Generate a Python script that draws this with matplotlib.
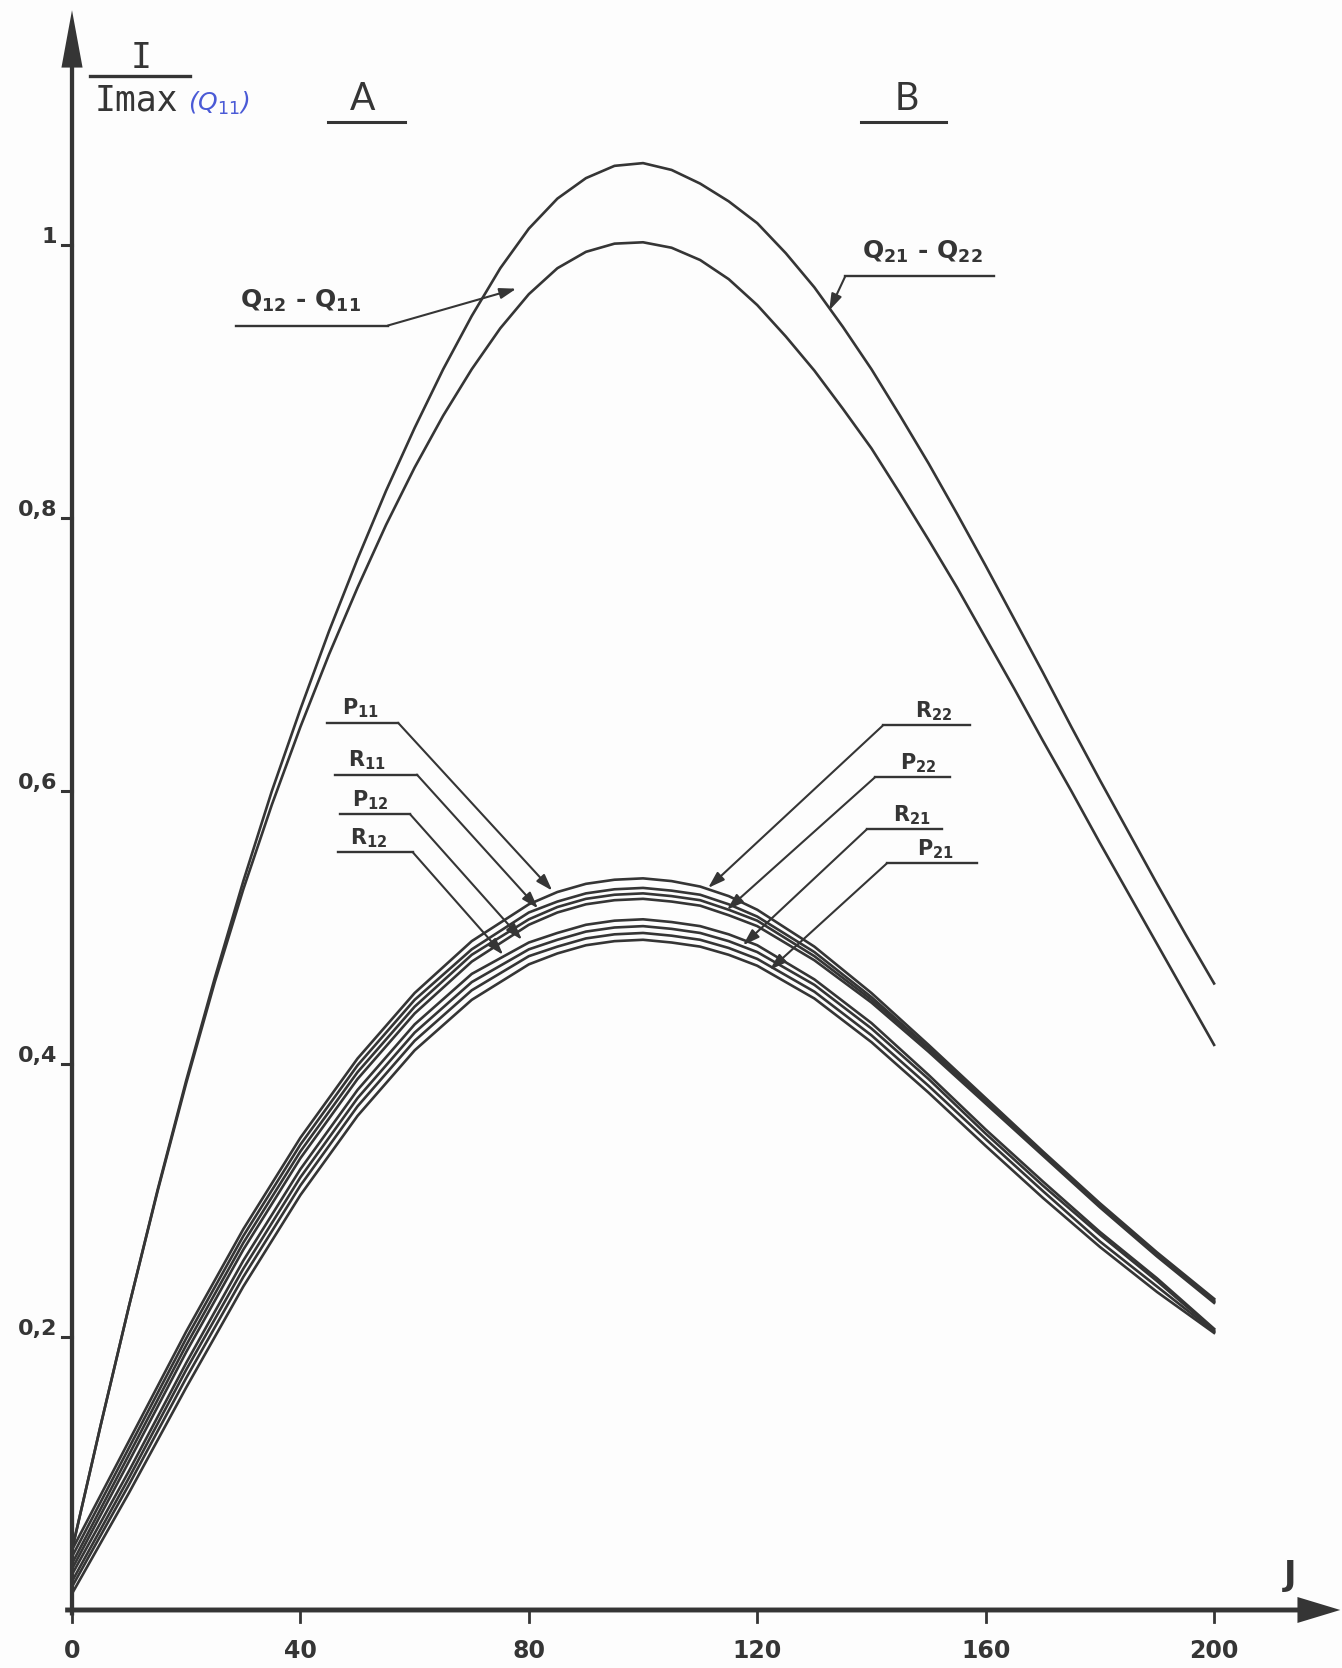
#importing relevant libraries
import matplotlib.pyplot as plt

#fonts: bold sans for the lettering, subscripts in the same family
plt.rcParams['font.family'] = ['DejaVu Sans']
plt.rcParams['mathtext.fontset'] = 'dejavusans'

#---------------- data ----------------
#J values for the two Q curves (every 5)
j_q = list(range(0, 205, 5))
q21_q22 = [0.044, 0.135, 0.223, 0.308, 0.388, 0.463, 0.534, 0.600, 0.660, 0.717,
           0.770, 0.820, 0.866, 0.909, 0.948, 0.983, 1.012, 1.034, 1.049, 1.058,
           1.060, 1.055, 1.045, 1.032, 1.016, 0.994, 0.969, 0.940, 0.909, 0.875,
           0.840, 0.803, 0.765, 0.726, 0.687, 0.647, 0.608, 0.570, 0.532, 0.495,
           0.459]
q12_q11 = [0.044, 0.135, 0.223, 0.307, 0.386, 0.460, 0.528, 0.590, 0.647, 0.700,
           0.749, 0.795, 0.837, 0.875, 0.909, 0.939, 0.964, 0.983, 0.995, 1.001,
           1.002, 0.998, 0.989, 0.975, 0.956, 0.933, 0.908, 0.880, 0.851, 0.818,
           0.784, 0.749, 0.712, 0.675, 0.637, 0.600, 0.562, 0.525, 0.488, 0.451,
           0.414]

#J values for the P / R bundle (denser around the maximum)
j_pr = [0, 10, 20, 30, 40, 50, 60, 70, 80, 85, 90, 95, 100, 105, 110, 115, 120,
        130, 140, 150, 160, 170, 180, 190, 200]
r22 = [0.044, 0.124, 0.204, 0.279, 0.346, 0.404, 0.452, 0.490, 0.517, 0.526, 0.532,
       0.535, 0.536, 0.534, 0.530, 0.523, 0.513, 0.486, 0.452, 0.414, 0.375, 0.336,
       0.298, 0.262, 0.228]
p11 = [0.039, 0.119, 0.199, 0.274, 0.341, 0.399, 0.447, 0.484, 0.511, 0.519, 0.525,
       0.528, 0.529, 0.527, 0.524, 0.517, 0.508, 0.482, 0.449, 0.412, 0.373, 0.335,
       0.297, 0.261, 0.227]
p22 = [0.034, 0.114, 0.194, 0.269, 0.336, 0.394, 0.442, 0.480, 0.506, 0.515, 0.521,
       0.524, 0.525, 0.523, 0.520, 0.513, 0.505, 0.479, 0.447, 0.411, 0.372, 0.334,
       0.296, 0.260, 0.226]
r11 = [0.030, 0.109, 0.189, 0.264, 0.331, 0.389, 0.437, 0.475, 0.502, 0.511, 0.517,
       0.520, 0.521, 0.519, 0.516, 0.509, 0.501, 0.476, 0.445, 0.409, 0.371, 0.333,
       0.295, 0.259, 0.225]
r21 = [0.026, 0.102, 0.181, 0.256, 0.323, 0.381, 0.429, 0.466, 0.489, 0.496, 0.502,
       0.505, 0.506, 0.504, 0.501, 0.495, 0.487, 0.462, 0.430, 0.392, 0.352, 0.314,
       0.277, 0.243, 0.206]
p12 = [0.021, 0.097, 0.176, 0.250, 0.317, 0.375, 0.423, 0.460, 0.484, 0.491, 0.497,
       0.500, 0.501, 0.499, 0.496, 0.490, 0.482, 0.458, 0.426, 0.389, 0.349, 0.311,
       0.275, 0.241, 0.205]
p21 = [0.017, 0.092, 0.170, 0.244, 0.311, 0.369, 0.417, 0.454, 0.479, 0.486, 0.492,
       0.495, 0.496, 0.494, 0.491, 0.485, 0.477, 0.453, 0.421, 0.384, 0.345, 0.307,
       0.270, 0.237, 0.204]
r12 = [0.012, 0.086, 0.163, 0.237, 0.304, 0.362, 0.410, 0.447, 0.473, 0.481, 0.487,
       0.490, 0.491, 0.489, 0.486, 0.480, 0.472, 0.448, 0.416, 0.379, 0.340, 0.302,
       0.266, 0.233, 0.203]

#axis ticks
x_ticks = [0, 40, 80, 120, 160, 200]
y_ticks = [0.2, 0.4, 0.6, 0.8, 1.0]
y_tick_labels = ['0,2', '0,4', '0,6', '0,8', '1']

#curve labels: text, text left J, underline v, underline J from/to, arrow tip (J, v), side
curve_labels = [
    (r'P$_\mathbf{11}$', 47.3, 0.650, 44.7, 57.1, 84.1, 0.527, 'left'),
    (r'R$_\mathbf{11}$', 48.3, 0.612, 46.1, 60.4, 81.6, 0.514, 'left'),
    (r'P$_\mathbf{12}$', 49.0, 0.583, 46.9, 59.2, 78.8, 0.491, 'left'),
    (r'R$_\mathbf{12}$', 48.7, 0.555, 46.6, 59.7, 75.5, 0.480, 'left'),
    (r'R$_\mathbf{22}$', 147.6, 0.648, 142.0, 157.3, 111.4, 0.529, 'right'),
    (r'P$_\mathbf{22}$', 145.0, 0.610, 140.6, 153.8, 114.7, 0.513, 'right'),
    (r'R$_\mathbf{21}$', 143.8, 0.572, 139.2, 152.4, 117.5, 0.487, 'right'),
    (r'P$_\mathbf{21}$', 148.0, 0.547, 142.7, 158.5, 122.2, 0.469, 'right'),
]
q_labels = [
    (r'Q$_\mathbf{12}$ - Q$_\mathbf{11}$', 29.4, 0.941, 28.7, 55.3, 77.8, 0.968, 'left'),
    (r'Q$_\mathbf{21}$ - Q$_\mathbf{22}$', 138.4, 0.977, 135.4, 161.5, 132.6, 0.952, 'right'),
]

#---------------- drawing ----------------
ink = '#353535'
paper = '#fdfdfd'

fig = plt.figure(figsize=(13.42, 16.68), dpi=100)
fig.patch.set_facecolor(paper)
ax = fig.add_axes([0, 0, 1, 1])
ax.set_facecolor(paper)
#limits chosen so that J=0 sits at the y axis and J=200 near the right edge
ax.set_xlim(-12.61, 222.4)
ax.set_ylim(-0.0425, 1.1795)
ax.axis('off')

#the two Q curves
ax.plot(j_q, q21_q22, color=ink, lw=1.9, solid_joinstyle='round')
ax.plot(j_q, q12_q11, color=ink, lw=1.9, solid_joinstyle='round')

#the P / R bundle
for series in [r22, p11, p22, r11, r21, p12, p21, r12]:
    ax.plot(j_pr, series, color=ink, lw=1.9, solid_joinstyle='round')

#axes drawn by hand with arrow heads
ax.arrow(0, -0.004, 0, 1.176, width=0.75, head_width=3.7, head_length=0.042,
         length_includes_head=True, color=ink, lw=0)
ax.arrow(-1.2, 0, 223.3, 0, width=0.0036, head_width=0.019, head_length=7.5,
         length_includes_head=True, color=ink, lw=0)

#tick marks and tick labels
for t in x_ticks:
    ax.plot([t, t], [0, -0.009], color=ink, lw=2)
    ax.text(t, -0.0302, str(t), ha='center', va='center', fontsize=17,
            fontweight='bold', color=ink)
for t, lab in zip(y_ticks, y_tick_labels):
    ax.plot([-1.7, 0], [t, t], color=ink, lw=2.2)
    ax.text(-2.6, t + 0.006, lab, ha='right', va='center', fontsize=16,
            fontweight='bold', color=ink)

#labels with an underline and a leader ending in an arrow
def leader(text, tx, ul_v, ul0, ul1, tip_x, tip_y, side, size, gap):
    ax.text(tx, ul_v + gap, text, ha='left', va='baseline', fontsize=size,
            fontweight='bold', color=ink)
    ax.plot([ul0, ul1], [ul_v, ul_v], color=ink, lw=1.7)
    start = ul1 if side == 'left' else ul0
    ax.annotate('', xy=(tip_x, tip_y), xytext=(start, ul_v),
                arrowprops=dict(arrowstyle='-|>,head_length=0.55,head_width=0.18',
                                color=ink, lw=1.5, shrinkA=0, shrinkB=0,
                                mutation_scale=18))

for lab in curve_labels:
    leader(*lab, size=15, gap=0.006)
for lab in q_labels:
    leader(*lab, size=18, gap=0.013)

#y axis title: I / Imax (Q11)
ax.text(12.1, 1.130, 'I', ha='center', va='baseline', fontsize=25,
        family='DejaVu Sans Mono', color=ink)
ax.plot([3.2, 20.7], [1.1238, 1.1238], color=ink, lw=2.4)
ax.text(3.9, 1.0989, 'Imax', ha='left', va='baseline', fontsize=25,
        family='DejaVu Sans Mono', color=ink)
ax.text(20.3, 1.0985, r'(Q$_{11}$)', ha='left', va='baseline', fontsize=18,
        style='italic', color='#4a5ad6')

#zone titles A and B
ax.text(50.8, 1.0989, 'A', ha='center', va='baseline', fontsize=27,
        family='Lato', color=ink)
ax.plot([44.8, 58.3], [1.090, 1.090], color=ink, lw=2.2)
ax.text(146.2, 1.0989, 'B', ha='center', va='baseline', fontsize=27,
        family='Lato', color=ink)
ax.plot([138.2, 153.1], [1.090, 1.090], color=ink, lw=2.2)

#x axis name
ax.text(213.3, 0.0183, 'J', ha='center', va='baseline', fontsize=24,
        fontweight='bold', color=ink)

plt.savefig('out.png', dpi=100, facecolor=paper)
